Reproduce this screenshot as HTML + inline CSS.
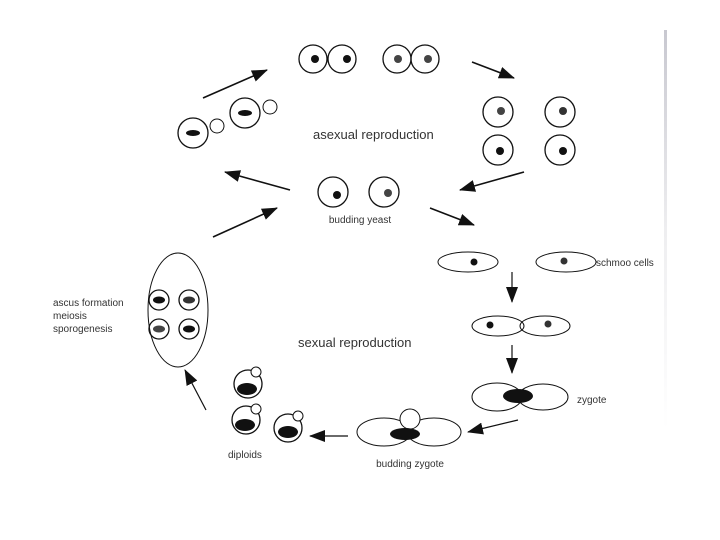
<!DOCTYPE html>
<html><head><meta charset="utf-8"><style>
html,body{margin:0;padding:0;background:#fff;}
svg{display:block}
text{font-family:"Liberation Sans",sans-serif;fill:#333}
</style></head><body>
<svg width="720" height="540" viewBox="0 0 720 540" xmlns="http://www.w3.org/2000/svg">
<defs>
<marker id="a" markerWidth="10" markerHeight="8" refX="9" refY="4" orient="auto" markerUnits="userSpaceOnUse">
<path d="M0,0 L10,4 L0,8 Z" fill="#111"/></marker>
<marker id="b" markerWidth="16" markerHeight="12" refX="15" refY="6" orient="auto" markerUnits="userSpaceOnUse">
<path d="M0,0 L16,6 L0,12 Z" fill="#111"/></marker>
<linearGradient id="g" x1="0" y1="0" x2="0" y2="1">
<stop offset="0" stop-color="#c8c8d0"/><stop offset="0.5" stop-color="#eeeef0"/><stop offset="1" stop-color="#fff"/></linearGradient>
</defs>
<rect x="664" y="30" width="3" height="400" fill="url(#g)"/>
<g fill="none" stroke="#111" stroke-width="1.3">
<!-- top pairs -->
<circle cx="313" cy="59" r="14"/><circle cx="342" cy="59" r="14"/>
<circle cx="397" cy="59" r="14"/><circle cx="425" cy="59" r="14"/>
<!-- budded -->
<circle cx="193" cy="133" r="15"/><circle cx="217" cy="126" r="7" stroke-width="1"/>
<circle cx="245" cy="113" r="15"/><circle cx="270" cy="107" r="7" stroke-width="1"/>
<!-- four -->
<circle cx="498" cy="112" r="15"/><circle cx="560" cy="112" r="15"/>
<circle cx="498" cy="150" r="15"/><circle cx="560" cy="150" r="15"/>
<!-- budding yeast -->
<circle cx="333" cy="192" r="15"/><circle cx="384" cy="192" r="15"/>
<!-- schmoo -->
<ellipse cx="468" cy="262" rx="30" ry="10" stroke-width="1"/>
<ellipse cx="566" cy="262" rx="30" ry="10" stroke-width="1"/>
<ellipse cx="498" cy="326" rx="26" ry="10" stroke-width="1"/>
<ellipse cx="545" cy="326" rx="25" ry="10" stroke-width="1"/>
<!-- zygote -->
<ellipse cx="497" cy="397" rx="25" ry="14" stroke-width="1"/>
<ellipse cx="543" cy="397" rx="25" ry="13" stroke-width="1"/>
<!-- budding zygote -->
<ellipse cx="384" cy="432" rx="27" ry="14" stroke-width="1"/>
<ellipse cx="434" cy="432" rx="27" ry="14" stroke-width="1"/>
<circle cx="410" cy="419" r="10" fill="#fff" stroke-width="1"/>
<!-- diploids -->
<circle cx="248" cy="384" r="14"/><circle cx="256" cy="372" r="5" fill="#fff" stroke-width="1"/>
<circle cx="246" cy="420" r="14"/><circle cx="256" cy="409" r="5" fill="#fff" stroke-width="1"/>
<circle cx="288" cy="428" r="14"/><circle cx="298" cy="416" r="5" fill="#fff" stroke-width="1"/>
<!-- ascus -->
<ellipse cx="178" cy="310" rx="30" ry="57" stroke-width="1"/>
<circle cx="159" cy="300" r="10"/><circle cx="189" cy="300" r="10"/>
<circle cx="159" cy="329" r="10"/><circle cx="189" cy="329" r="10"/>
</g>
<g fill="#111">
<circle cx="315" cy="59" r="4"/><circle cx="347" cy="59" r="4"/>
<circle cx="398" cy="59" r="4" fill="#444"/><circle cx="428" cy="59" r="4" fill="#444"/>
<ellipse cx="193" cy="133" rx="7" ry="3"/><ellipse cx="245" cy="113" rx="7" ry="3"/>
<circle cx="501" cy="111" r="4" fill="#444"/><circle cx="563" cy="111" r="4" fill="#333"/>
<circle cx="500" cy="151" r="4"/><circle cx="563" cy="151" r="4"/>
<circle cx="337" cy="195" r="4"/><circle cx="388" cy="193" r="4" fill="#444"/>
<circle cx="474" cy="262" r="3.5"/><circle cx="564" cy="261" r="3.5" fill="#333"/>
<circle cx="490" cy="325" r="3.5"/><circle cx="548" cy="324" r="3.5" fill="#333"/>
<ellipse cx="518" cy="396" rx="15" ry="7"/>
<ellipse cx="405" cy="434" rx="15" ry="6"/>
<ellipse cx="247" cy="389" rx="10" ry="6"/><ellipse cx="245" cy="425" rx="10" ry="6"/><ellipse cx="288" cy="432" rx="10" ry="6"/>
<ellipse cx="159" cy="300" rx="6" ry="3.5"/><ellipse cx="189" cy="300" rx="6" ry="3.5" fill="#333"/>
<ellipse cx="159" cy="329" rx="6" ry="3.5" fill="#444"/><ellipse cx="189" cy="329" rx="6" ry="3.5"/>
</g>
<g stroke="#111" stroke-width="1.6">
<line x1="203" y1="98" x2="267" y2="70" marker-end="url(#b)"/>
<line x1="472" y1="62" x2="514" y2="78" marker-end="url(#b)"/>
<line x1="524" y1="172" x2="460" y2="190" marker-end="url(#b)"/>
<line x1="290" y1="190" x2="225" y2="172" marker-end="url(#b)"/>
<line x1="213" y1="237" x2="277" y2="208" marker-end="url(#b)"/>
<line x1="430" y1="208" x2="474" y2="225" marker-end="url(#b)"/>
<line x1="512" y1="272" x2="512" y2="302" stroke-width="1.2" marker-end="url(#b)"/>
<line x1="512" y1="345" x2="512" y2="373" stroke-width="1.2" marker-end="url(#b)"/>
<line x1="518" y1="420" x2="468" y2="432" stroke-width="1.2" marker-end="url(#b)"/>
<line x1="348" y1="436" x2="310" y2="436" stroke-width="1.2" marker-end="url(#b)"/>
<line x1="206" y1="410" x2="185" y2="370" stroke-width="1.2" marker-end="url(#b)"/>
</g>
<text x="313" y="139" font-size="13">asexual reproduction</text>
<text x="360" y="223" font-size="10" text-anchor="middle">budding yeast</text>
<text x="596" y="266" font-size="10">schmoo cells</text>
<text x="298" y="347" font-size="13">sexual reproduction</text>
<text x="577" y="403" font-size="10">zygote</text>
<text x="410" y="467" font-size="10" text-anchor="middle">budding zygote</text>
<text x="228" y="458" font-size="10">diploids</text>
<text x="53" y="306" font-size="10">ascus formation</text>
<text x="53" y="319" font-size="10">meiosis</text>
<text x="53" y="332" font-size="10">sporogenesis</text>
</svg>
</body></html>
